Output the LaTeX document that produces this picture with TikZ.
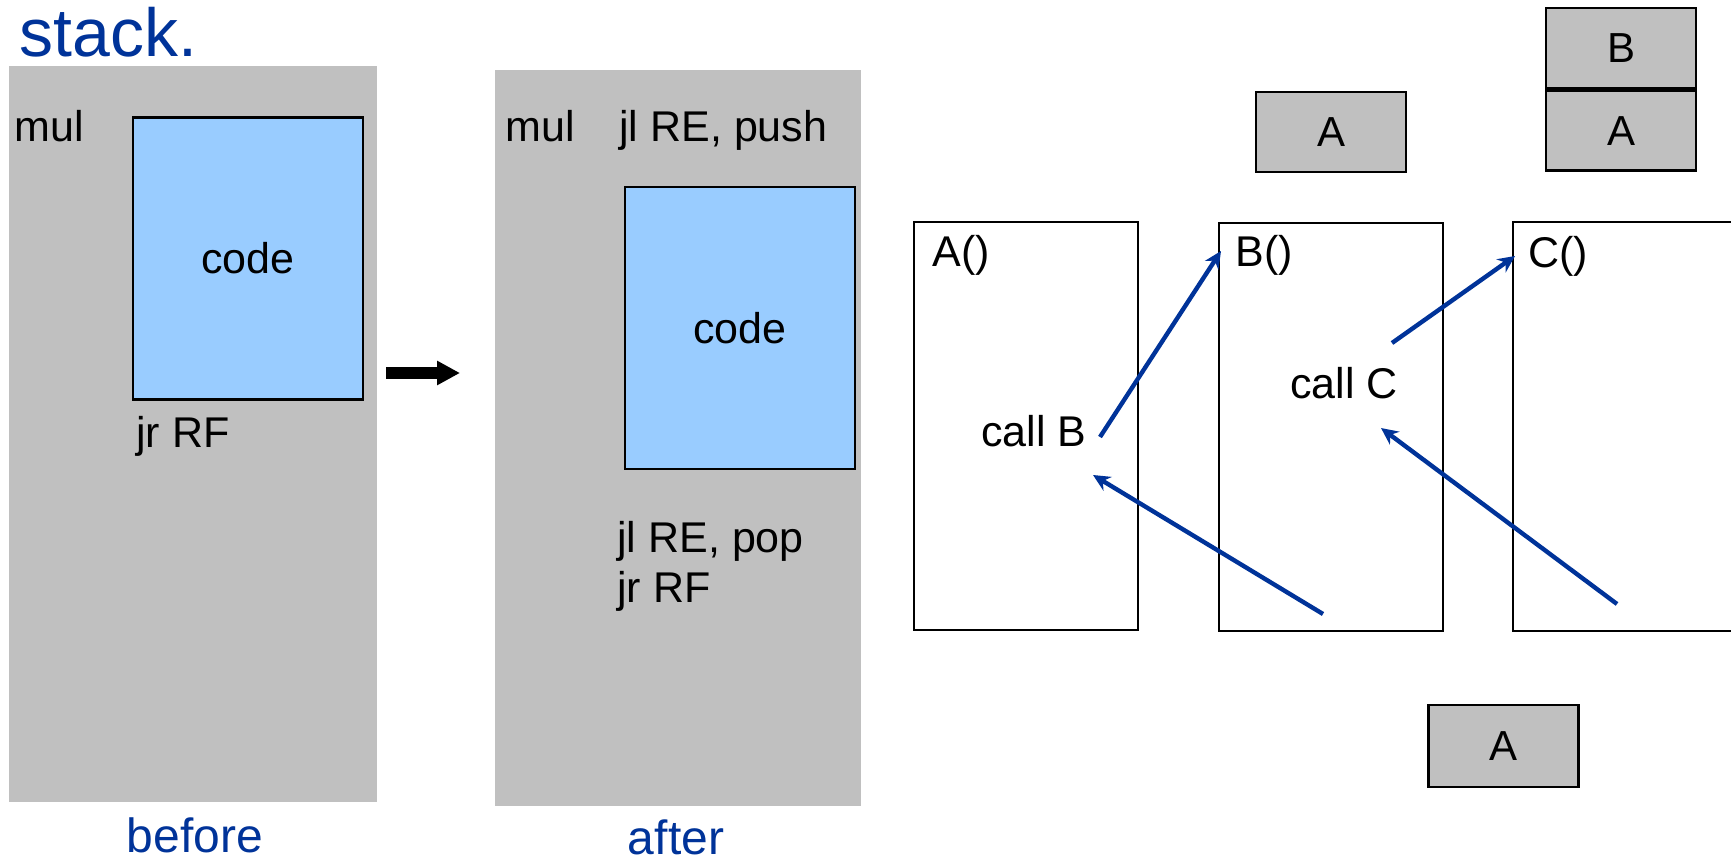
\documentclass[tikz,border=0pt]{standalone}
\usepackage{fontspec}
\setmainfont{Liberation Sans}
\usetikzlibrary{arrows.meta}
\definecolor{panelgray}{HTML}{C0C0C0}
\definecolor{codeblue}{HTML}{99CCFF}
\definecolor{navy}{HTML}{003399}

\begin{document}
\begin{tikzpicture}[x=0.5pt,y=-0.5pt,
  panel/.style={rectangle, fill=panelgray, draw=none, inner sep=0pt},
  codebox/.style={rectangle, fill=codeblue, draw=black, line width=1.3pt, inner sep=0pt,
    minimum width=115pt, minimum height=141pt},
  funcbox/.style={rectangle, draw=black, line width=1pt, inner sep=0pt,
    minimum width=111.75pt, minimum height=204pt},
  cell/.style={rectangle, fill=panelgray, draw=black, line width=1.4pt, inner sep=0pt,
    minimum width=75pt, minimum height=40pt, font=\fontsize{21}{25}\selectfont},
  txt/.style={inner sep=0pt, font=\fontsize{21.5}{26}\selectfont},
  caption/.style={inner sep=0pt, text=navy, font=\fontsize{24}{29}\selectfont},
  flow/.style={draw=navy, line width=2.2pt, -{Stealth[length=8.5pt,width=8pt]}},
]
\useasboundingbox (0,0) rectangle (1731,861);
\clip (0,0) rectangle (1731,861);

% title
\node[caption, anchor=base west, font=\fontsize{34}{41}\selectfont] (title) at (19,57) {stack.};

% "before" panel
\node[panel, minimum width=184pt, minimum height=368pt] (before) at (193,434) {};
\node[codebox] (bcode) at (248,258.5) {};
\node[txt] at (bcode) {code};
\node[txt, anchor=base west] (bmul) at (14,142) {mul};
\node[txt, anchor=base west] (bjr) at (136,448) {jr RF};
\node[caption, anchor=base] (beforelbl) at (195,852) {before};

% transformation arrow
\coordinate (tstart) at (386,373);
\coordinate (tend) at (460,373);
\draw[line width=6pt, -{Triangle[length=11.5pt,width=11.5pt]}] (tstart) -- (tend);

% "after" panel
\node[panel, minimum width=183pt, minimum height=368pt] (after) at (678,438) {};
\node[codebox] (acode) at (740,328) {};
\node[txt] at (acode) {code};
\node[txt, anchor=base west] (amul) at (505,142) {mul};
\node[txt, anchor=base west] (apush) at (619,142) {jl RE, push};
\node[txt, anchor=base west] (apop) at (617,552) {jl RE, pop};
\node[txt, anchor=base west] (ajr) at (617,602) {jr RF};
\node[caption, anchor=base] (afterlbl) at (676,854) {after};

% procedure frames
\node[funcbox] (fa) at (1026,426) {};
\node[funcbox] (fb) at (1331,427) {};
\node[funcbox, minimum width=130pt] (fc) at (1643,426.5) {};
\node[txt, anchor=base west] (la) at (932,267) {A()};
\node[txt, anchor=base west] (lb) at (1235,267) {B()};
\node[txt, anchor=base west] (lc) at (1528,268) {C()};
\node[txt, anchor=base west] (callb) at (981,446) {call B};
\node[txt, anchor=base west] (callc) at (1290,399) {call C};

% calls and returns
\coordinate (c1s) at (1100,437);
\coordinate (c1e) at (1221,251);
\coordinate (r1s) at (1323,614);
\coordinate (r1e) at (1093,475);
\coordinate (c2s) at (1392,343);
\coordinate (c2e) at (1515,256);
\coordinate (r2s) at (1617,604);
\coordinate (r2e) at (1381,428);
\draw[flow] (c1s) -- (c1e);
\draw[flow] (r1s) -- (r1e);
\draw[flow] (c2s) -- (c2e);
\draw[flow] (r2s) -- (r2e);

% stack snapshots
\node[cell] (s1a) at (1331,132) {A};
\node[cell] (s2b) at (1621,48) {B};
\node[cell, anchor=north] (s2a) at (s2b.south) {A};
\node[cell, minimum height=41pt] (s3a) at (1503.5,746) {A};
\end{tikzpicture}
\end{document}
